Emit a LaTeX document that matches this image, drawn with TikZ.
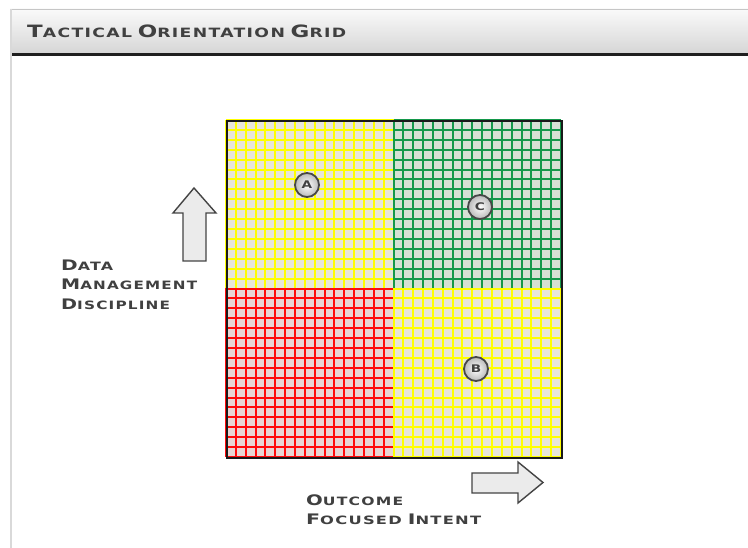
\documentclass[tikz,border=0pt]{standalone}
\usepackage{fontspec}
\usepackage{graphicx}
\newfontfamily\bgfont[FakeStretch=1.3,LetterSpace=10]{DejaVu Sans Bold}
\definecolor{txt}{HTML}{404040}
\definecolor{ybg}{HTML}{E8E6D8}
\definecolor{yln}{HTML}{FFFF00}
\definecolor{gbg}{HTML}{D6E0D4}
\definecolor{gln}{HTML}{14984A}
\definecolor{rbg}{HTML}{E8D6D4}
\definecolor{rln}{HTML}{FF0A0A}
\definecolor{arrowfill}{HTML}{EBEBEB}
\definecolor{arrowline}{HTML}{444444}
\newcommand\bigsmall[4]{{\fontsize{#1}{#1}\selectfont #3}{\fontsize{#2}{#2}\selectfont #4}}
\newcommand\fitw[2]{\resizebox{#1pt}{\height}{#2}}
\newcommand\gridquad[4]{%
  \fill[#3] (#1,#2) rectangle ++(167.5,168.5);
  \foreach \i in {0,...,17} {
    \pgfmathsetmacro\xx{round(#1+\i*167.5/17)}
    \pgfmathsetmacro\yy{round(#2+\i*168.5/17)}
    \draw[#4, line width=2] (\xx,#2) -- ++(0,168.5);
    \draw[#4, line width=2] (#1,\yy) -- ++(167.5,0);
  }}
\tikzset{
  lbl/.style={anchor=base west, inner sep=0pt, text=txt, font=\bgfont},
  marker/.style={circle, minimum size=24pt, inner sep=0pt, draw=black!72, line width=1.8pt,
    inner color=white, outer color=gray!55, text=black!75, font=\bgfont\fontsize{10.5}{10.5}\selectfont},
  blockarrow/.style={fill=arrowfill, draw=arrowline, line width=1.4pt, line join=miter}
}
\begin{document}
\begin{tikzpicture}[x=1pt,y=-1pt]
\useasboundingbox (0,0) rectangle (748,548);
\fill[white] (0,0) rectangle (748,548);
% header
\shade[top color=gray!4, bottom color=gray!32] (10,9) rectangle (748,53);
\draw[gray!45, line width=1.2] (10,9.5) -- (748,9.5);
\fill[black!88] (10,53) rectangle (748,56.5);
\fill[gray!30] (9.5,9) rectangle (11.5,548);
\node[lbl] (title) at (27,38) {\fitw{319}{\bigsmall{17}{12.8}{T}{ACTICAL} \bigsmall{17}{12.8}{O}{RIENTATION} \bigsmall{17}{12.8}{G}{RID}}};
% grid
\gridquad{226}{120}{ybg}{yln}
\gridquad{393.5}{120}{gbg}{gln}
\gridquad{226}{288.5}{rbg}{rln}
\gridquad{393.5}{288.5}{ybg}{yln}
\node[draw=black!90, line width=1.6pt, minimum width=335pt, minimum height=337pt, inner sep=0pt, anchor=north west] (grid) at (226,120) {};
% markers
\node[marker] (A) at (307,185) {A};
\node[marker] (C) at (480,207) {C};
\node[marker] (B) at (476,369) {B};
% arrows
\draw[blockarrow] (194,188) -- (216,213) -- (206,213) -- (206,261) -- (183,261) -- (183,213) -- (173,213) -- cycle;
\draw[blockarrow] (472,473) -- (518,473) -- (518,462) -- (543,482.5) -- (518,503) -- (518,493) -- (472,493) -- cycle;
% labels
\node[lbl] (data) at (61,271) {\fitw{52}{\bigsmall{14.5}{11.5}{D}{ATA}}};
\node[lbl] (mgmt) at (61,290) {\fitw{136}{\bigsmall{14.5}{11.5}{M}{ANAGEMENT}}};
\node[lbl] (disc) at (61,309.5) {\fitw{109}{\bigsmall{14.5}{11.5}{D}{ISCIPLINE}}};
\node[lbl] (outc) at (306,505) {\fitw{97}{\bigsmall{14.5}{11.5}{O}{UTCOME}}};
\node[lbl] (focu) at (306,524) {\fitw{175}{\bigsmall{14.5}{11.5}{F}{OCUSED} \bigsmall{14.5}{11.5}{I}{NTENT}}};
\end{tikzpicture}
\end{document}
